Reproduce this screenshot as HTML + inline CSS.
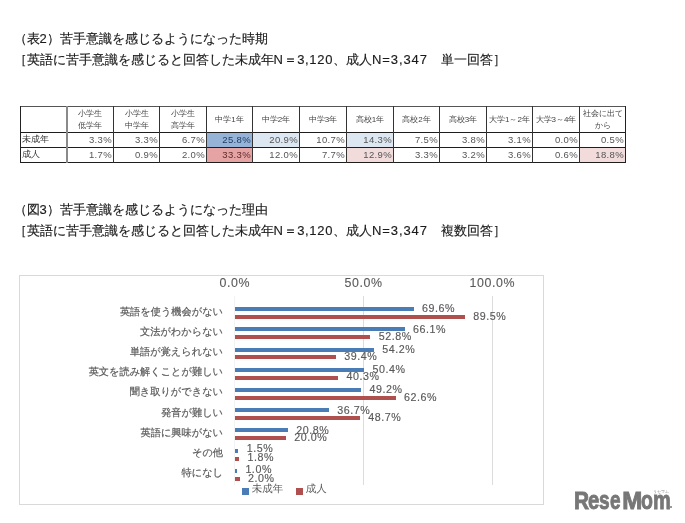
<!DOCTYPE html>
<html><head><meta charset="utf-8">
<style>
html,body{margin:0;padding:0;background:#fff;width:685px;height:523px;overflow:hidden;position:relative}
#w{position:absolute;left:0;top:0;width:685px;height:523px;will-change:transform}
body{font-family:"Liberation Sans",sans-serif;color:#333}
.a{position:absolute;white-space:nowrap}
.t{font-size:13px;color:#1a1a1a;line-height:13px;-webkit-text-stroke:0.15px #1a1a1a}
.hw1{letter-spacing:0.66px}
.hw2{letter-spacing:0.9px}
.hl{position:absolute;background:#222;height:1px}
.vl{position:absolute;background:#555;width:1px}
.hd{position:absolute;font-size:8px;line-height:11.5px;text-align:center;color:#444}
.num{position:absolute;font-size:9.5px;line-height:15px;text-align:right;color:#555;letter-spacing:0.35px}
.lab{position:absolute;font-size:8.5px;line-height:15px;color:#333;left:22px}
.cat{position:absolute;right:462px;font-size:10.2px;text-rendering:geometricPrecision;-webkit-text-stroke:0.2px #595959;line-height:12px;color:#595959;text-align:right}
.bb{position:absolute;background:#4a7db5;height:4px;left:234.5px}
.rb{position:absolute;background:#b0504e;height:4px;left:234.5px}
.val{position:absolute;font-size:10.7px;line-height:12px;color:#595959;letter-spacing:0.55px;-webkit-text-stroke:0.15px #595959}
.ax{position:absolute;font-size:12.4px;line-height:12px;color:#595959;letter-spacing:0.6px;-webkit-text-stroke:0.1px #595959;width:80px;text-align:center}
.lg{font-weight:bold;color:#777;-webkit-text-stroke:0.9px #777;transform-origin:0 0}
.gl{position:absolute;background:#dcdcdc;width:1px;top:296px;height:189px}
</style></head><body><div id="w">

<div class="a t" style="left:13.5px;top:32px">（表2）苦手意識を感じるようになった時期</div>
<div class="a t" style="left:13.5px;top:53px">［英語に苦手意識を感じると回答した未成年<span class="hw1">N＝3,120</span>、成人<span class="hw2">N=3,347</span>　単一回答］</div>
<div class="a t" style="left:13.5px;top:203px">（図3）苦手意識を感じるようになった理由</div>
<div class="a t" style="left:13.5px;top:224px">［英語に苦手意識を感じると回答した未成年<span class="hw1">N＝3,120</span>、成人<span class="hw2">N=3,347</span>　複数回答］</div>
<div class="a" style="left:206px;top:132px;width:46px;height:15px;background:#95b3d7"></div>
<div class="a" style="left:206px;top:147px;width:46px;height:15px;background:#e6a3a3"></div>
<div class="a" style="left:252px;top:132px;width:47px;height:15px;background:#dde7f2"></div>
<div class="a" style="left:346px;top:132px;width:47px;height:15px;background:#dde7f2"></div>
<div class="a" style="left:346px;top:147px;width:47px;height:15px;background:#f2dcdb"></div>
<div class="a" style="left:579px;top:147px;width:46px;height:15px;background:#f2dcdb"></div>
<div class="hl" style="left:20px;top:106px;width:606px;background:#555"></div>
<div class="hl" style="left:20px;top:132px;width:606px;background:#1e1e1e"></div>
<div class="hl" style="left:20px;top:147px;width:606px;background:#1e1e1e"></div>
<div class="hl" style="left:20px;top:162px;width:606px;background:#1e1e1e"></div>
<div class="vl" style="left:20px;top:106px;height:57px;width:1px;background:#222"></div>
<div class="vl" style="left:66px;top:106px;height:57px;width:1.6px;background:#8a8a8a"></div>
<div class="vl" style="left:113px;top:106px;height:57px;width:1px;background:#333"></div>
<div class="vl" style="left:159px;top:106px;height:57px;width:1px;background:#333"></div>
<div class="vl" style="left:206px;top:106px;height:57px;width:1px;background:#333"></div>
<div class="vl" style="left:252px;top:106px;height:57px;width:1px;background:#333"></div>
<div class="vl" style="left:299px;top:106px;height:57px;width:1px;background:#333"></div>
<div class="vl" style="left:346px;top:106px;height:57px;width:1px;background:#333"></div>
<div class="vl" style="left:393px;top:106px;height:57px;width:1px;background:#333"></div>
<div class="vl" style="left:439px;top:106px;height:57px;width:1px;background:#333"></div>
<div class="vl" style="left:486px;top:106px;height:57px;width:1px;background:#333"></div>
<div class="vl" style="left:532px;top:106px;height:57px;width:1px;background:#333"></div>
<div class="vl" style="left:579px;top:106px;height:57px;width:1px;background:#333"></div>
<div class="vl" style="left:625px;top:106px;height:57px;width:1px;background:#222"></div>
<div class="hd" style="left:66.50px;top:108px;width:47.00px">小学生<br>低学年</div>
<div class="hd" style="left:113.50px;top:108px;width:46.00px">小学生<br>中学年</div>
<div class="hd" style="left:159.50px;top:108px;width:47.00px">小学生<br>高学年</div>
<div class="hd" style="left:206.50px;top:114px;width:46.00px">中学1年</div>
<div class="hd" style="left:252.50px;top:114px;width:47.00px">中学2年</div>
<div class="hd" style="left:299.50px;top:114px;width:47.00px">中学3年</div>
<div class="hd" style="left:346.50px;top:114px;width:47.00px">高校1年</div>
<div class="hd" style="left:393.50px;top:114px;width:46.00px">高校2年</div>
<div class="hd" style="left:439.50px;top:114px;width:47.00px">高校3年</div>
<div class="hd" style="left:486.50px;top:114px;width:46.00px">大学1～2年</div>
<div class="hd" style="left:532.50px;top:114px;width:47.00px">大学3～4年</div>
<div class="hd" style="left:579.50px;top:108px;width:46.00px">社会に出て<br>から</div>
<div class="num" style="left:66.50px;top:131.8px;width:45.50px;color:#555">3.3%</div>
<div class="num" style="left:66.50px;top:146.8px;width:45.50px;color:#555">1.7%</div>
<div class="num" style="left:113.50px;top:131.8px;width:44.50px;color:#555">3.3%</div>
<div class="num" style="left:113.50px;top:146.8px;width:44.50px;color:#555">0.9%</div>
<div class="num" style="left:159.50px;top:131.8px;width:45.50px;color:#555">6.7%</div>
<div class="num" style="left:159.50px;top:146.8px;width:45.50px;color:#555">2.0%</div>
<div class="num" style="left:206.50px;top:131.8px;width:44.50px;color:#1f3b63">25.8%</div>
<div class="num" style="left:206.50px;top:146.8px;width:44.50px;color:#5e2a2a">33.3%</div>
<div class="num" style="left:252.50px;top:131.8px;width:45.50px;color:#555">20.9%</div>
<div class="num" style="left:252.50px;top:146.8px;width:45.50px;color:#555">12.0%</div>
<div class="num" style="left:299.50px;top:131.8px;width:45.50px;color:#555">10.7%</div>
<div class="num" style="left:299.50px;top:146.8px;width:45.50px;color:#555">7.7%</div>
<div class="num" style="left:346.50px;top:131.8px;width:45.50px;color:#555">14.3%</div>
<div class="num" style="left:346.50px;top:146.8px;width:45.50px;color:#555">12.9%</div>
<div class="num" style="left:393.50px;top:131.8px;width:44.50px;color:#555">7.5%</div>
<div class="num" style="left:393.50px;top:146.8px;width:44.50px;color:#555">3.3%</div>
<div class="num" style="left:439.50px;top:131.8px;width:45.50px;color:#555">3.8%</div>
<div class="num" style="left:439.50px;top:146.8px;width:45.50px;color:#555">3.2%</div>
<div class="num" style="left:486.50px;top:131.8px;width:44.50px;color:#555">3.1%</div>
<div class="num" style="left:486.50px;top:146.8px;width:44.50px;color:#555">3.6%</div>
<div class="num" style="left:532.50px;top:131.8px;width:45.50px;color:#555">0.0%</div>
<div class="num" style="left:532.50px;top:146.8px;width:45.50px;color:#555">0.6%</div>
<div class="num" style="left:579.50px;top:131.8px;width:44.50px;color:#555">0.5%</div>
<div class="num" style="left:579.50px;top:146.8px;width:44.50px;color:#555">18.8%</div>
<div class="lab" style="top:132px">未成年</div>
<div class="lab" style="top:147px">成人</div>
<div class="a" style="left:19px;top:275px;width:523px;height:228px;border:1px solid #d9d9d9"></div>
<div class="gl" style="left:234.00px;background:#f3f3f3"></div>
<div class="gl" style="left:362.75px"></div>
<div class="gl" style="left:491.50px"></div>
<div class="ax" style="left:194.75px;top:277px">0.0%</div>
<div class="ax" style="left:323.50px;top:277px">50.0%</div>
<div class="ax" style="left:452.25px;top:277px">100.0%</div>
<div class="cat" style="top:306.50px">英語を使う機会がない</div>
<div class="bb" style="top:307.10px;width:179.22px"></div>
<div class="rb" style="top:314.90px;width:230.46px"></div>
<div class="val" style="left:422.02px;top:302.40px">69.6%</div>
<div class="val" style="left:473.26px;top:309.70px">89.5%</div>
<div class="cat" style="top:326.73px">文法がわからない</div>
<div class="bb" style="top:327.33px;width:170.21px"></div>
<div class="rb" style="top:335.13px;width:135.96px"></div>
<div class="val" style="left:413.01px;top:322.63px">66.1%</div>
<div class="val" style="left:378.76px;top:329.93px">52.8%</div>
<div class="cat" style="top:346.96px">単語が覚えられない</div>
<div class="bb" style="top:347.56px;width:139.56px"></div>
<div class="rb" style="top:355.36px;width:101.45px"></div>
<div class="val" style="left:382.37px;top:342.86px">54.2%</div>
<div class="val" style="left:344.25px;top:350.16px">39.4%</div>
<div class="cat" style="top:367.19px">英文を読み解くことが難しい</div>
<div class="bb" style="top:367.79px;width:129.78px"></div>
<div class="rb" style="top:375.59px;width:103.77px"></div>
<div class="val" style="left:372.58px;top:363.09px">50.4%</div>
<div class="val" style="left:346.57px;top:370.39px">40.3%</div>
<div class="cat" style="top:387.42px">聞き取りができない</div>
<div class="bb" style="top:388.02px;width:126.69px"></div>
<div class="rb" style="top:395.82px;width:161.19px"></div>
<div class="val" style="left:369.49px;top:383.32px">49.2%</div>
<div class="val" style="left:404.00px;top:390.62px">62.6%</div>
<div class="cat" style="top:407.65px">発音が難しい</div>
<div class="bb" style="top:408.25px;width:94.50px"></div>
<div class="rb" style="top:416.05px;width:125.40px"></div>
<div class="val" style="left:337.30px;top:403.55px">36.7%</div>
<div class="val" style="left:368.20px;top:410.85px">48.7%</div>
<div class="cat" style="top:427.88px">英語に興味がない</div>
<div class="bb" style="top:428.48px;width:53.56px"></div>
<div class="rb" style="top:436.28px;width:51.50px"></div>
<div class="val" style="left:296.36px;top:423.78px">20.8%</div>
<div class="val" style="left:294.30px;top:431.08px">20.0%</div>
<div class="cat" style="top:448.11px">その他</div>
<div class="bb" style="top:448.71px;width:3.86px"></div>
<div class="rb" style="top:456.51px;width:4.63px"></div>
<div class="val" style="left:246.66px;top:441.71px">1.5%</div>
<div class="val" style="left:247.44px;top:451.31px">1.8%</div>
<div class="cat" style="top:468.34px">特になし</div>
<div class="bb" style="top:468.94px;width:2.58px"></div>
<div class="rb" style="top:476.74px;width:5.15px"></div>
<div class="val" style="left:245.38px;top:462.74px">1.0%</div>
<div class="val" style="left:247.95px;top:471.54px">2.0%</div>
<div class="a" style="left:242px;top:488.3px;width:7px;height:7px;background:#4a7db5"></div>
<div class="a" style="left:251.8px;top:483.4px;font-size:10.5px;line-height:12px;color:#595959;text-rendering:geometricPrecision">未成年</div>
<div class="a" style="left:296.2px;top:488.3px;width:7px;height:7px;background:#b0504e"></div>
<div class="a" style="left:305.8px;top:483.4px;font-size:10.5px;line-height:12px;color:#595959;text-rendering:geometricPrecision">成人</div>
<div class="a lg" style="left:574.23px;top:488.5px;font-size:24px;line-height:24px;transform:scaleX(0.87)">R</div>
<div class="a lg" style="left:587.82px;top:486.5px;font-size:26px;line-height:26px;transform:scaleX(0.78)">e</div>
<div class="a lg" style="left:599.17px;top:486.5px;font-size:26px;line-height:26px;transform:scaleX(0.73)">s</div>
<div class="a lg" style="left:610.17px;top:486.5px;font-size:26px;line-height:26px;transform:scaleX(0.73)">e</div>
<div class="a lg" style="left:622.30px;top:488.5px;font-size:24px;line-height:24px;transform:scaleX(1.0)">M</div>
<div class="a lg" style="left:640.55px;top:486.5px;font-size:26px;line-height:26px;transform:scaleX(0.75)">o</div>
<div class="a lg" style="left:652.73px;top:486.5px;font-size:26px;line-height:26px;transform:scaleX(0.77)">m</div>
<div class="a" style="left:670.2px;top:505.6px;width:2.2px;height:2.8px;border-radius:1px;background:#777"></div>
<div class="a" style="left:652.5px;top:488.6px;font-size:4.1px;line-height:5px;color:#888">リセマム</div>
</div></body></html>
